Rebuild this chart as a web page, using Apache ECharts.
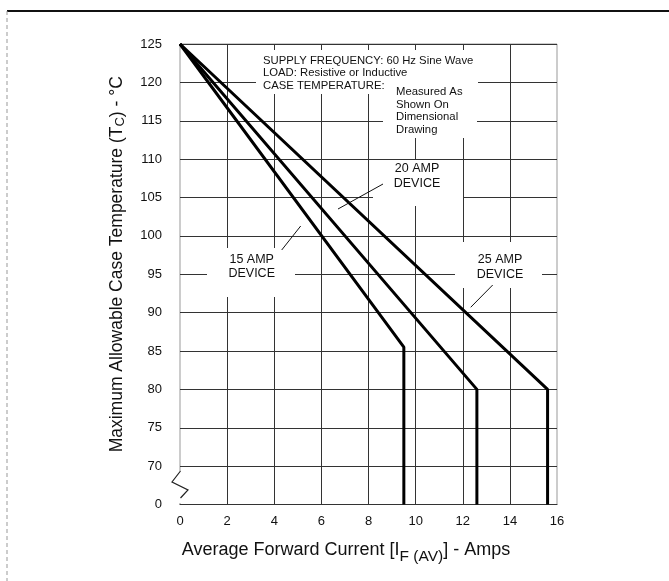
<!DOCTYPE html>
<html><head><meta charset="utf-8">
<script src="https://cdn.jsdelivr.net/npm/echarts@6/dist/echarts.min.js"></script>
<style>html,body{margin:0;padding:0;background:#fff}#c{width:669px;height:581px}</style>
</head><body><div id="c"></div>
<script>
// ---- data ----
const xTicks = [0, 2, 4, 6, 8, 10, 12, 14, 16];
const yTickLabels = ['0', '70', '75', '80', '85', '90', '95', '100', '105', '110', '115', '120', '125'];
const BREAK_BASE = 65;               // compressed axis slot that carries the label "0" (broken axis)
const amp15X = [0, 9.5, 9.5];
const amp15Y = [125, 85.5, BREAK_BASE];
const amp20X = [0, 12.6, 12.6];
const amp20Y = [125, 80, BREAK_BASE];
const amp25X = [0, 15.6, 15.6];
const amp25Y = [125, 80, BREAK_BASE];

const FONT = '"Liberation Sans", Arial, Helvetica, sans-serif';
const pairs = (xs, ys) => xs.map((x, i) => [x, ys[i]]);

const chart = echarts.init(document.getElementById('c'), null, {renderer: 'canvas'});

const lineSeries = (name, xs, ys) => ({
  name, type: 'line', data: pairs(xs, ys), symbol: 'none', animation: false,
  lineStyle: {color: '#000', width: 3}, z: 3
});

chart.setOption({
  backgroundColor: '#fff',
  animation: false,
  grid: {left: 180, right: 112, top: 44, bottom: 76.5, show: true, borderColor: '#999', borderWidth: 1, backgroundColor: 'transparent'},
  xAxis: {
    type: 'value', min: xTicks[0], max: xTicks[xTicks.length - 1], interval: 2,
    axisLine: {show: true, lineStyle: {color: '#333', width: 1}},
    axisTick: {show: false},
    axisLabel: {margin: 10, fontSize: 13, color: '#111', fontFamily: FONT},
    splitLine: {show: true, showMinLine: false, showMaxLine: false, lineStyle: {color: '#333', width: 1}},
    name: '{a|Average Forward Current [I}{s|F (AV)}{a|] - Amps}',
    nameLocation: 'middle', nameGap: 37,
    nameTextStyle: {
      padding: [0, 45, 0, 0],
      rich: {
        a: {fontSize: 18, fontFamily: FONT, color: '#111', lineHeight: 20, verticalAlign: 'top'},
        s: {fontSize: 15.5, fontFamily: FONT, color: '#111', lineHeight: 20, verticalAlign: 'top', padding: [7, 0, 0, 0]}
      }
    }
  },
  yAxis: {
    type: 'value', min: BREAK_BASE, max: 125, interval: 5,
    axisLine: {show: false},
    axisTick: {show: false},
    axisLabel: {margin: 18, fontSize: 13, color: '#111', fontFamily: FONT,
      formatter: v => yTickLabels[Math.round((v - BREAK_BASE) / 5)]},
    splitLine: {show: true, showMinLine: false, showMaxLine: true, lineStyle: {color: '#333', width: 1}},
    name: '{a|Maximum Allowable Case Temperature (T}{s|C}{a|) - °C}',
    nameLocation: 'middle', nameGap: 52, nameRotate: 90,
    nameTextStyle: {
      padding: [0, 0, 0, 20],
      rich: {
        a: {fontSize: 17.5, fontFamily: FONT, color: '#111', lineHeight: 20, verticalAlign: 'top'},
        s: {fontSize: 13, fontFamily: FONT, color: '#111', lineHeight: 20, verticalAlign: 'top', padding: [6, 0, 0, 0]}
      }
    }
  },
  series: [
    lineSeries('15 AMP DEVICE', amp15X, amp15Y),
    lineSeries('20 AMP DEVICE', amp20X, amp20Y),
    lineSeries('25 AMP DEVICE', amp25X, amp25Y)
  ]
});

// ---- decoration & annotations ----
const txt = (text, x, y, size, align) => ({
  type: 'text', z: 10, silent: true,
  style: {text, x, y, fontSize: size, fontFamily: FONT, fill: '#111', align: align || 'left', verticalAlign: 'middle'}
});
const white = (x, y, w, h) => ({type: 'rect', z: 1, silent: true, shape: {x, y, width: w, height: h}, style: {fill: '#fff'}});
const seg = (x1, y1, x2, y2, w, color, dash) => ({
  type: 'line', z: 10, silent: true, shape: {x1, y1, x2, y2},
  style: {stroke: color || '#111', lineWidth: w || 1, lineDash: dash || null}
});

const g = [
  // white knock-outs behind the annotations
  white(256, 50, 222, 44),
  white(383, 86, 94, 52),
  white(373, 160, 90, 46),
  white(207, 248, 88, 49),
  white(455, 242, 87, 46),
  white(175, 471, 10, 32),
  // axis break mark
  {type: 'polyline', z: 10, silent: true, shape: {points: [[180.5, 471], [172, 482], [188, 490], [180.5, 498]]}, style: {stroke: '#222', lineWidth: 1.2, fill: null}},
  // page frame
  seg(7, 11, 669, 11, 2, '#111'),
  seg(7, 11, 7, 581, 1, '#999', [4, 3]),
  // notes
  txt('SUPPLY FREQUENCY: 60 Hz Sine Wave', 263, 60.7, 11.3),
  txt('LOAD: Resistive or Inductive', 263, 73.3, 11.3),
  txt('CASE TEMPERATURE:', 263, 86, 11.3),
  txt('Measured As', 396, 91.7, 11.3),
  txt('Shown On', 396, 104.5, 11.3),
  txt('Dimensional', 396, 117.3, 11.3),
  txt('Drawing', 396, 130, 11.3),
  // device labels
  txt('20 AMP', 417, 168.3, 12.5, 'center'),
  txt('DEVICE', 417, 184, 12.5, 'center'),
  txt('15 AMP', 251.7, 260, 12.5, 'center'),
  txt('DEVICE', 251.7, 274, 12.5, 'center'),
  txt('25 AMP', 500, 260, 12.5, 'center'),
  txt('DEVICE', 500, 275, 12.5, 'center'),
  // leaders
  seg(338, 209, 383, 184),
  seg(281.7, 250, 300.7, 226),
  seg(492.7, 285, 470.7, 307.3)
];
chart.setOption({graphic: {elements: g}});
</script></body></html>
